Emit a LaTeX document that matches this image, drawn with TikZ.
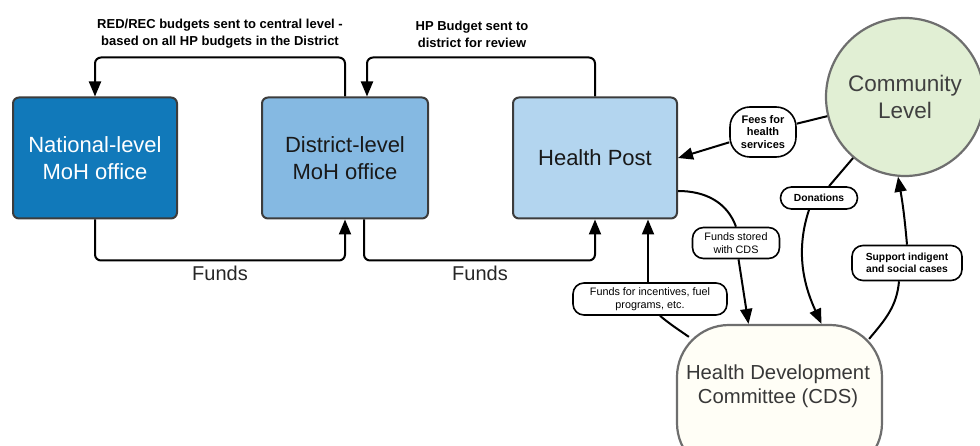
\documentclass[tikz,border=0pt]{standalone}
\usepackage{fontspec}
\setmainfont{Liberation Sans}
\usetikzlibrary{arrows.meta,calc}
\definecolor{natblue}{HTML}{1179BA}
\definecolor{distblue}{HTML}{85B9E2}
\definecolor{hpblue}{HTML}{B3D5EF}
\definecolor{commgreen}{HTML}{E1EFD4}
\definecolor{cdsfill}{HTML}{FFFEF6}
\definecolor{edgegray}{HTML}{3C3C3C}
\definecolor{ringgray}{HTML}{6E6E6E}
\begin{document}
\begin{tikzpicture}[x=1pt,y=-1pt,
  levelbox/.style={draw=edgegray,line width=2pt,rounded corners=6pt,minimum width=164pt,minimum height=121pt,align=center,font=\fontsize{22}{27}\selectfont,inner sep=0pt},
  pill/.style={draw=black,fill=white,line width=1.6pt,rounded corners=11pt,align=center,inner sep=0pt,font=\fontsize{10.3}{12.5}\selectfont\bfseries},
  plainpill/.style={pill,font=\fontsize{10.8}{13}\selectfont},
  toplabel/.style={align=center,font=\fontsize{13}{17}\selectfont\bfseries},
  fundslabel/.style={font=\fontsize{20}{24}\selectfont,text=black!85},
  conn/.style={draw=black,line width=2pt},
  arr/.style={conn,-{Triangle[length=15pt,width=12pt]}}
]
\useasboundingbox (0,0) rectangle (980,446);
\clip (0,0) rectangle (980,446);

% level boxes
\node[levelbox,fill=natblue,text=white] (nat) at (95,158) {National-level\\MoH office};
\node[levelbox,fill=distblue,text=black!90,minimum width=166pt] (dist) at (345,158) {District-level\\MoH office};
\node[levelbox,fill=hpblue,text=black!90] (hp) at (595,158) {Health Post};

% community and CDS
\node[circle,draw=ringgray,line width=2.2pt,fill=commgreen,minimum size=158pt,inner sep=0pt,align=center,text=black!75,font=\fontsize{22.5}{27}\selectfont] (comm) at (905,97) {Community\\Level};
\node[draw=ringgray,line width=2.2pt,fill=cdsfill,rounded corners=52pt,minimum width=205pt,minimum height=150pt,inner sep=0pt] (cds) at (779.5,400) {};
\node[align=center,text=black!78,font=\fontsize{20.3}{24}\selectfont] (cdstext) at (778,386) {Health Development\\Committee (CDS)};

% top budget flows
\draw[arr,rounded corners=6pt] (dist.north) -- ++(0,-39) -| (nat.north);
\draw[arr,rounded corners=6pt] (hp.north) -- ++(0,-39) -| ([xshift=22pt]dist.north);
\node[toplabel] (redlab) at (220,34) {RED/REC budgets sent to central level -\\based on all HP budgets in the District};
\node[toplabel] (hplab) at (472,34) {HP Budget sent to\\district for review};

% bottom funds flows
\draw[arr,rounded corners=6pt] (nat.south) -- ++(0,41) -| (dist.south);
\draw[arr,rounded corners=6pt] ([xshift=19pt]dist.south) -- ++(0,41) -| (hp.south);
\node[fundslabel] (funds1) at (220,273) {Funds};
\node[fundslabel] (funds2) at (480,273) {Funds};

% pill labels
\node[pill,minimum width=66pt,minimum height=50pt,rounded corners=20pt,font=\fontsize{11}{12.5}\selectfont\bfseries] (fees) at (763,132) {Fees for\\health\\services};
\node[pill,minimum width=77pt,minimum height=22pt] (don) at (819,198) {Donations};
\node[plainpill,minimum width=87pt,minimum height=31pt] (stored) at (736,243) {Funds stored\\with CDS};
\node[pill,minimum width=110pt,minimum height=35pt] (sup) at (907,263) {Support indigent\\and social cases};
\node[plainpill,minimum width=154pt,minimum height=32pt] (inc) at (650,299) {Funds for incentives, fuel\\programs, etc.};

% connection points
\coordinate (hpright) at ([yshift=-33pt]hp.east);
\coordinate (cdsA) at ([xshift=-31pt]cds.north);
\coordinate (cdsB) at ([xshift=42pt]cds.north);
\coordinate (cdsTL) at ($(cds.north west)+(13,13)$);
\coordinate (cdsTR) at ($(cds.north east)+(-14,15)$);

% community -> fees -> HP
\draw[conn] (comm) -- (fees);
\draw[arr] (fees) -- (hp.east);

% HP -> stored -> CDS
\draw[conn] (hpright) to[out=0,in=110] (stored.north);
\draw[arr] (stored) -- (cdsA);

% CDS -> incentives -> HP
\draw[conn] (cdsTL) to[out=145,in=-40] ([xshift=10pt]inc.south);
\draw[arr] ([xshift=-2pt]inc.north) -- ([xshift=-2pt]inc.north |- hp.south);

% community -> donations -> CDS
\draw[conn] (comm) -- (don);
\draw[arr] ([xshift=-10pt]don.south) .. controls (794,255) and (806,290) .. (cdsB);

% CDS -> support -> community
\draw[conn] (cdsTR) to[out=50,in=-95] ([xshift=-8pt]sup.south);
\draw[arr] (sup.north) to[out=95,in=-80] (comm.-95);
\end{tikzpicture}
\end{document}
